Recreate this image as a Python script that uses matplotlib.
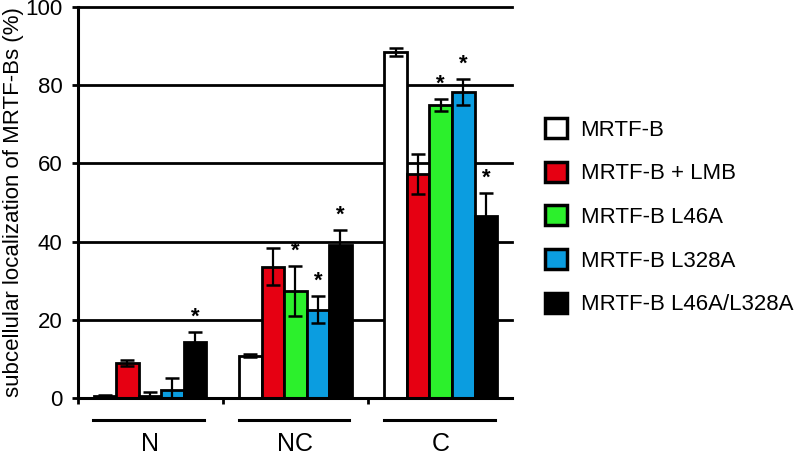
import matplotlib.pyplot as plt
from matplotlib.patches import Patch
from matplotlib.transforms import blended_transform_factory

plt.rcParams['font.family'] = ['Liberation Sans', 'DejaVu Sans']

groups = ['N', 'NC', 'C']
series = ['MRTF-B', 'MRTF-B + LMB', 'MRTF-B L46A', 'MRTF-B L328A', 'MRTF-B L46A/L328A']
colors = ['#ffffff', '#e60012', '#2cf02c', '#0b9de0', '#000000']

# values per series, order N, NC, C
means = [
    [0.4, 10.8, 88.4],
    [9.0, 33.6, 57.3],
    [0.5, 27.4, 74.9],
    [2.1, 22.6, 78.3],
    [14.4, 39.1, 46.5],
]
errs = [
    [0.3, 0.4, 1.0],
    [0.8, 4.8, 5.1],
    [1.0, 6.4, 1.5],
    [3.1, 3.4, 3.4],
    [2.6, 3.9, 6.0],
]
# significance stars
stars = [
    [False, False, False],
    [False, False, False],
    [False, True, True],
    [False, True, True],
    [True, True, True],
]

fig = plt.figure(figsize=(7.98, 4.55), dpi=100)
ax = fig.add_axes([0.0977, 0.1253, 0.5439, 0.8593])

width = 0.155
x = range(len(groups))
for yv in [20, 40, 60, 80, 100]:
    ax.axhline(yv, color='black', lw=2.0, zorder=0, clip_on=False)

for i, name in enumerate(series):
    pos = [g + (i - 2) * width for g in x]
    ax.bar(pos, means[i], width=width, color=colors[i], edgecolor='black',
           linewidth=2.0, zorder=2)
    ax.errorbar(pos, means[i], yerr=errs[i], fmt='none', ecolor='black',
                elinewidth=1.6, capsize=5, capthick=1.8, zorder=3)
    for j in range(len(groups)):
        if stars[i][j]:
            ax.annotate('*', (pos[j], means[i][j] + errs[i][j]), xytext=(0, 3),
                        textcoords='offset points', ha='center', va='bottom',
                        fontsize=16, fontweight='bold', zorder=4)

ax.set_xlim(-0.495, 2.49)
ax.set_ylim(0, 100)
ax.set_yticks([0, 20, 40, 60, 80, 100])
ax.tick_params(axis='y', labelsize=16, length=4, width=2, pad=7)
ax.set_xticks([-0.495, 0.5, 1.5])
ax.set_xticklabels([])
ax.tick_params(axis='x', length=4, width=2)
for s in ['top', 'right']:
    ax.spines[s].set_visible(False)
ax.spines['left'].set_linewidth(2.2)
ax.spines['bottom'].set_linewidth(2.2)
ax.set_ylabel('subcellular localization of MRTF-Bs (%)', fontsize=16, labelpad=1)

trans = blended_transform_factory(ax.transData, ax.transAxes)
for g, label in zip(x, groups):
    ax.plot([g - 0.39, g + 0.37], [-0.056, -0.056], color='black', lw=2.2,
            transform=trans, clip_on=False)
    ax.text(g, -0.118, label, transform=trans, ha='center', va='center', fontsize=18)

handles = [Patch(facecolor=c, edgecolor='black', linewidth=2.5) for c in colors]
fig.legend(handles, series, loc='center left', bbox_to_anchor=(0.683, 0.524),
           frameon=False, fontsize=16, handlelength=1.0, handleheight=1.0,
           handletextpad=0.6, labelspacing=0.95, borderpad=0, borderaxespad=0)

fig.savefig('out.png', dpi=100)
